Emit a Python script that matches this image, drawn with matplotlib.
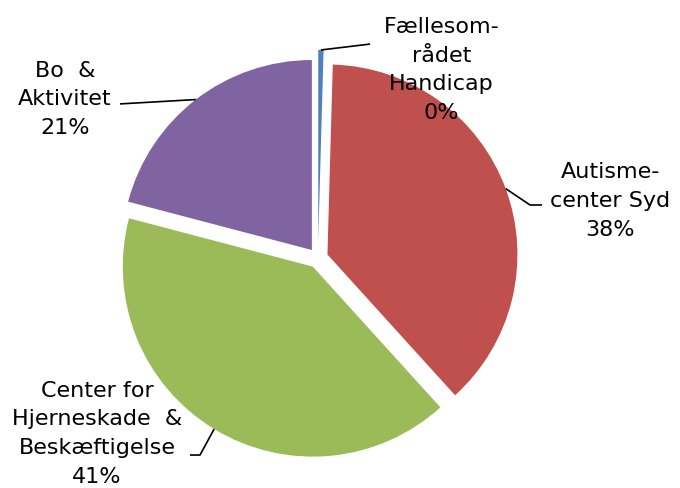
import numpy as np
import matplotlib
matplotlib.use("Agg")
import matplotlib.pyplot as plt

categories = ["Fællesom-\nrådet\nHandicap", "Autisme-\ncenter Syd",
              "Center for\nHjerneskade  &\nBeskæftigelse", "Bo  &\nAktivitet"]
values = [0.45, 38, 41, 21]
colors = ["#4F81BD", "#C0504D", "#9BBB59", "#8064A2"]
explode = [0.095, 0.053, 0.053, 0.053]

# label text centres and leader-line waypoints (data units, radius = 1)
label_pos = [(0.650, 0.990), (1.537, 0.300), (-1.163, -0.925), (-1.332, 0.835)]
leader_pts = [[(0.274, 1.126)],
              [(1.116, 0.279), (1.179, 0.279)],
              [(-0.621, -1.037), (-0.674, -1.037)],
              [(-1.042, 0.811)]]

fig = plt.figure(figsize=(6.8, 4.88), dpi=100)
ax = fig.add_axes([0, 0, 1, 1])
wedges, _ = ax.pie(values, colors=colors, explode=explode, startangle=90,
                   counterclock=False, radius=1.0,
                   wedgeprops=dict(edgecolor="none", linewidth=0))
ax.set_xlim(-318 / 190, 362 / 190)
ax.set_ylim(-230 / 190, 258 / 190)
ax.set_aspect("equal")
ax.axis("off")

total = sum(values)
for w, cat, v, pos, pts in zip(wedges, categories, values, label_pos, leader_pts):
    ang = np.deg2rad((w.theta1 + w.theta2) / 2)
    cx, cy = w.center
    sx, sy = cx + w.r * np.cos(ang), cy + w.r * np.sin(ang)
    xs = [sx] + [p[0] for p in pts]
    ys = [sy] + [p[1] for p in pts]
    ax.plot(xs, ys, color="black", lw=1.2, solid_capstyle="butt")
    pct = round(v / total * 100)
    ax.text(pos[0], pos[1], f"{cat}\n{pct}%", ha="center", va="center",
            fontsize=16, linespacing=1.55, family="DejaVu Sans")

fig.savefig("out.png", dpi=100)
